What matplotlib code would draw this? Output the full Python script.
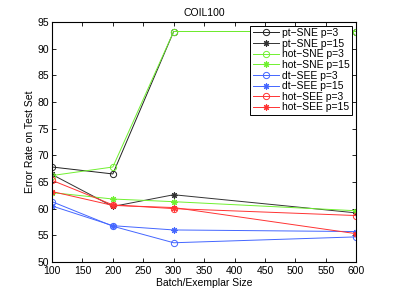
import matplotlib
matplotlib.use("Agg")
import matplotlib.pyplot as plt

batch_sizes = [100, 200, 300, 600]
pt_sne_p3 = [67.8, 66.5, 93.2, 93.2]
pt_sne_p15 = [66.4, 60.4, 62.6, 59.2]
hot_sne_p3 = [66.2, 67.8, 93.2, 93.2]
hot_sne_p15 = [63.0, 61.8, 61.3, 59.6]
dt_see_p3 = [61.3, 56.7, 53.6, 54.7]
dt_see_p15 = [60.5, 56.8, 56.0, 55.7]
hot_see_p3 = [65.3, 60.7, 60.0, 58.7]
hot_see_p15 = [63.2, 60.6, 60.2, 55.3]

labels = ["pt\u2212SNE p=3", "pt\u2212SNE p=15", "hot\u2212SNE p=3", "hot\u2212SNE p=15",
          "dt\u2212SEE p=3", "dt\u2212SEE p=15", "hot\u2212SEE p=3", "hot\u2212SEE p=15"]
series = [pt_sne_p3, pt_sne_p15, hot_sne_p3, hot_sne_p15,
          dt_see_p3, dt_see_p15, hot_see_p3, hot_see_p15]
colors = ["#222222", "#333333", "#70f030", "#70f030",
          "#4466ff", "#4466ff", "#ff3333", "#ff3333"]
xticks = [100, 150, 200, 250, 300, 350, 400, 450, 500, 550, 600]
yticks = [50, 55, 60, 65, 70, 75, 80, 85, 90, 95]

plt.rcParams['font.family'] = ['Liberation Sans', 'DejaVu Sans']
fig = plt.figure(figsize=(3.94, 2.96), dpi=100)
ax = fig.add_axes([0.132, 0.115, 0.772, 0.811])

asterisk = (8, 2, 0)
for i, (vals, lab, col) in enumerate(zip(series, labels, colors)):
    if i % 2 == 0:
        ax.plot(batch_sizes, vals, color=col, lw=0.7, marker='o', ms=4.5,
                mfc='none', mec=col, mew=0.7, label=lab)
    else:
        ax.plot(batch_sizes, vals, color=col, lw=0.7, marker=asterisk, ms=4.5,
                mec=col, mew=0.8, label=lab)

ax.set_xlim(100, 600)
ax.set_ylim(50, 95)
ax.set_xticks(xticks)
ax.set_yticks(yticks)
ax.tick_params(direction='in', top=True, right=True, labelsize=7.5, length=3, width=0.6)
ax.tick_params(axis='x', pad=3)
ax.tick_params(axis='y', pad=2)
for s in ax.spines.values():
    s.set_linewidth(0.8)
ax.set_title("COIL100", fontsize=7.5, pad=4)
ax.set_xlabel("Batch/Exemplar Size", fontsize=7.5, labelpad=1)
ax.set_ylabel("Error Rate on Test Set", fontsize=7.5, labelpad=2)

leg = ax.legend(loc='upper right', bbox_to_anchor=(0.987, 0.985), fontsize=7.5,
                fancybox=False, framealpha=1, edgecolor='black', handlelength=2.5,
                borderpad=0.25, labelspacing=0.06, handletextpad=0.3, borderaxespad=0)
leg.get_frame().set_linewidth(0.7)

fig.savefig("out.png", dpi=100)
